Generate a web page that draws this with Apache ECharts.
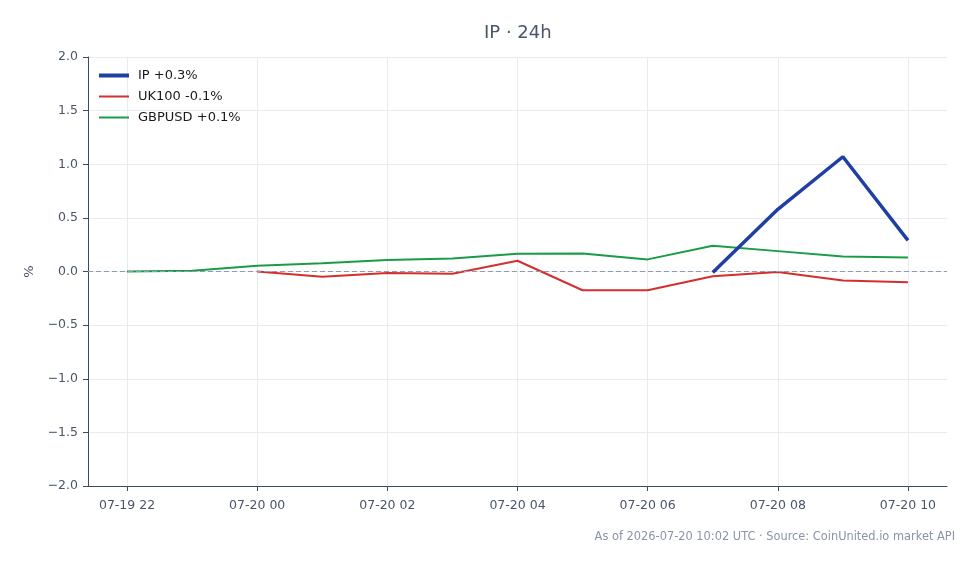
<!DOCTYPE html>
<html>
<head>
<meta charset="utf-8">
<script src="https://cdn.jsdelivr.net/npm/echarts@6/dist/echarts.min.js"></script>
<style>
  html, body { margin: 0; padding: 0; background: #fff; }
  #chart { width: 979px; height: 564px; }
</style>
</head>
<body>
<div id="chart"></div>
<script>
// hour labels (07-19 22 .. 07-20 10)
const hours = ['07-19 22', '07-19 23', '07-20 00', '07-20 01', '07-20 02', '07-20 03', '07-20 04',
  '07-20 05', '07-20 06', '07-20 07', '07-20 08', '07-20 09', '07-20 10'];
const xTicks = [0, 2, 4, 6, 8, 10, 12];

// % change, null where no data
const ipValues = [null, null, null, null, null, null, null, null, null, -0.01, 0.58, 1.07, 0.29];
const ukValues = [null, null, 0.0, -0.05, -0.014, -0.02, 0.10, -0.175, -0.175, -0.045, -0.005, -0.085, -0.10];
const gbpValues = [0.0, 0.008, 0.054, 0.077, 0.108, 0.122, 0.165, 0.167, 0.113, 0.24, 0.19, 0.14, 0.13];

const seriesNames = ['IP +0.3%', 'UK100 -0.1%', 'GBPUSD +0.1%'];
const seriesWidths = [3.5, 2, 2];

const font = 'DejaVu Sans';
const axisColor = '#3d4b5f';
const labelColor = '#4a5568';
const gridColor = '#e8ebef';

const toPairs = (arr) => arr.map((v, i) => [i, v]);

const chart = echarts.init(document.getElementById('chart'));

const option = {
  animation: false,
  textStyle: { fontFamily: font },
  title: [
    {
      text: 'IP · 24h',
      left: 479,
      top: 19,
      textStyle: { fontFamily: font, fontSize: 18, fontWeight: 'normal', color: '#4a5568' },
    },
    {
      text: 'As of 2026-07-20 10:02 UTC · Source: CoinUnited.io market API',
      right: 19,
      top: 527,
      textStyle: { fontFamily: font, fontSize: 11.4, fontWeight: 'normal', color: '#8a94a6' },
    },
  ],
  legend: {
    orient: 'vertical',
    left: 92,
    top: 64,
    itemWidth: 30,
    itemHeight: 10,
    itemGap: 8,
    itemStyle: { opacity: 0 },
    textStyle: { fontFamily: font, fontSize: 13, color: '#1a1a1a', padding: [0, 0, 0, 4] },
    data: seriesNames.map((n, i) => ({ name: n, lineStyle: { width: i === 0 ? 4 : 2 } })),
  },
  grid: { left: 88, right: 32, top: 57, bottom: 78 },
  xAxis: {
    type: 'value',
    min: -0.6,
    max: 12.6,
    axisLine: { show: true, onZero: false, lineStyle: { color: axisColor, width: 1 } },
    axisTick: { show: true, length: 5, lineStyle: { color: axisColor }, customValues: xTicks },
    axisLabel: {
      customValues: xTicks,
      formatter: (v) => hours[Math.round(v)],
      color: labelColor,
      fontSize: 12.5,
      fontFamily: font,
      margin: 13,
    },
    splitLine: { show: true, lineStyle: { color: gridColor, width: 1 } },
  },
  yAxis: {
    type: 'value',
    min: -2,
    max: 2,
    interval: 0.5,
    name: '%',
    nameLocation: 'middle',
    nameGap: 52,
    nameRotate: 90,
    nameTextStyle: { color: labelColor, fontSize: 13, fontFamily: font },
    axisLine: { show: true, onZero: false, lineStyle: { color: axisColor, width: 1 } },
    axisTick: { show: true, length: 5, lineStyle: { color: axisColor } },
    axisLabel: {
      formatter: (v) => (v < 0 ? '\u2212' + Math.abs(v).toFixed(1) : v.toFixed(1)),
      color: labelColor,
      fontSize: 12.5,
      fontFamily: font,
      margin: 10,
    },
    splitLine: { show: true, lineStyle: { color: gridColor, width: 1 } },
  },
  series: [
    {
      name: seriesNames[0],
      type: 'line',
      data: toPairs(ipValues),
      symbol: 'none',
      z: 5,
      lineStyle: { color: '#1f3fa3', width: seriesWidths[0] },
      itemStyle: { color: '#1f3fa3' },
      markLine: {
        silent: true,
        symbol: 'none',
        label: { show: false },
        lineStyle: { color: '#909cb6', type: [5, 3], width: 1 },
        data: [{ yAxis: 0 }],
      },
    },
    {
      name: seriesNames[1],
      type: 'line',
      data: toPairs(ukValues),
      symbol: 'none',
      z: 3,
      lineStyle: { color: '#d32f2f', width: seriesWidths[1] },
      itemStyle: { color: '#d32f2f' },
    },
    {
      name: seriesNames[2],
      type: 'line',
      data: toPairs(gbpValues),
      symbol: 'none',
      z: 4,
      lineStyle: { color: '#1a9c47', width: seriesWidths[2] },
      itemStyle: { color: '#1a9c47' },
    },
  ],
};

chart.setOption(option);
</script>
</body>
</html>
